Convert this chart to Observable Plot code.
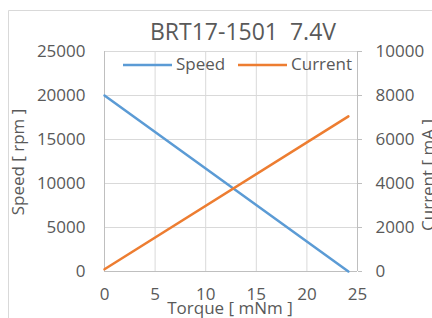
<!DOCTYPE html>
<html>
<head>
<meta charset="utf-8">
<script src="https://cdn.jsdelivr.net/npm/d3@7"></script>
<script src="https://cdn.jsdelivr.net/npm/@observablehq/plot@0.6"></script>
<style>
  html, body { margin: 0; padding: 0; background: #fff; }
  svg text { font-family: "Open Sans", sans-serif; }
</style>
</head>
<body>
<div id="chart"></div>
<script>
// ---- data ----
const torque = [0, 24.1];              // mNm
const speed = [20000, 0];              // rpm
const current = [100, 7050];           // mA
const seriesNames = ["Speed", "Current"];
const seriesColors = ["#5b9bd5", "#ed7d31"];
const xTicks = [0, 5, 10, 15, 20, 25];
const speedTicks = [0, 5000, 10000, 15000, 20000, 25000];
const currentTicks = [0, 2000, 4000, 6000, 8000, 10000];
const titleText = "BRT17-1501  7.4V";
const xLabel = "Torque [ mNm ]";
const yLabel = "Speed [ rpm ]";
const y2Label = "Current [ mA ]";

// secondary axis mapped onto primary scale
const ratio = speedTicks[speedTicks.length - 1] / currentTicks[currentTicks.length - 1];
const speedData = torque.map((t, i) => ({ t, v: speed[i] }));
const currentData = torque.map((t, i) => ({ t, v: current[i] * ratio }));

const W = 432, H = 318;
const mL = 104, mR = 75, mT = 51, mB = 47;
const textColor = "#595959";

const svg = Plot.plot({
  width: W, height: H,
  marginLeft: mL, marginRight: mR, marginTop: mT, marginBottom: mB,
  style: { fontFamily: "Open Sans, sans-serif", fontSize: "17px", color: textColor, background: "white" },
  x: { domain: [0, 25] },
  y: { domain: [0, 25000] },
  marks: [
    Plot.gridX(xTicks, { stroke: "#d9d9d9", strokeOpacity: 1 }),
    Plot.gridY(speedTicks, { stroke: "#d9d9d9", strokeOpacity: 1 }),
    Plot.ruleX([0], { stroke: "#bfbfbf" }),
    Plot.ruleX([25], { stroke: "#bfbfbf" }),
    Plot.ruleY([0], { stroke: "#bfbfbf" }),
    Plot.axisX(xTicks, { tickSize: 0, tickPadding: 16, label: null, fill: textColor, tickFormat: d => String(d) }),
    Plot.axisY(speedTicks, { anchor: "left", tickSize: 0, tickPadding: 19, label: null, fill: textColor, tickFormat: d => String(d) }),
    Plot.axisY(speedTicks, { anchor: "right", tickSize: 4, tickPadding: 14, stroke: "#bfbfbf", label: null, fill: textColor,
      tickFormat: d => String(Math.round(d / ratio)) }),
    Plot.line(speedData, { x: "t", y: "v", stroke: seriesColors[0], strokeWidth: 2.5 }),
    Plot.line(currentData, { x: "t", y: "v", stroke: seriesColors[1], strokeWidth: 2.5 })
  ]
});
document.getElementById("chart").appendChild(svg);

const s = d3.select(svg);
// outer chart border (partially visible)
s.append("line").attr("x1", 8.5).attr("x2", W).attr("y1", 10.5).attr("y2", 10.5).attr("stroke", "#d9d9d9");
s.append("line").attr("x1", 8.5).attr("x2", 8.5).attr("y1", 10.5).attr("y2", H).attr("stroke", "#d9d9d9");

// title
s.append("text").attr("x", 243).attr("y", 40).attr("text-anchor", "middle")
  .attr("xml:space", "preserve").style("white-space", "pre")
  .attr("font-size", 23).attr("fill", textColor).text(titleText);

// axis labels
s.append("text").attr("transform", "translate(19,162) rotate(-90)")
  .attr("text-anchor", "middle").attr("dominant-baseline", "middle")
  .attr("font-size", 17).attr("fill", textColor).text(yLabel);
s.append("text").attr("transform", "translate(429,175) rotate(-90)")
  .attr("text-anchor", "middle").attr("dominant-baseline", "middle")
  .attr("font-size", 17).attr("fill", textColor).text(y2Label);
s.append("text").attr("x", 230).attr("y", 314).attr("text-anchor", "middle")
  .attr("font-size", 17).attr("fill", textColor).text(xLabel);

// legend
const legendX = [123, 238];
seriesNames.forEach((name, i) => {
  const lx = legendX[i];
  s.append("line").attr("x1", lx).attr("x2", lx + 49).attr("y1", 65).attr("y2", 65)
    .attr("stroke", seriesColors[i]).attr("stroke-width", 2.5);
  s.append("text").attr("x", lx + 53).attr("y", 65).attr("text-anchor", "start")
    .attr("dominant-baseline", "middle")
    .attr("font-size", 17).attr("fill", textColor).text(name);
});
</script>
</body>
</html>
